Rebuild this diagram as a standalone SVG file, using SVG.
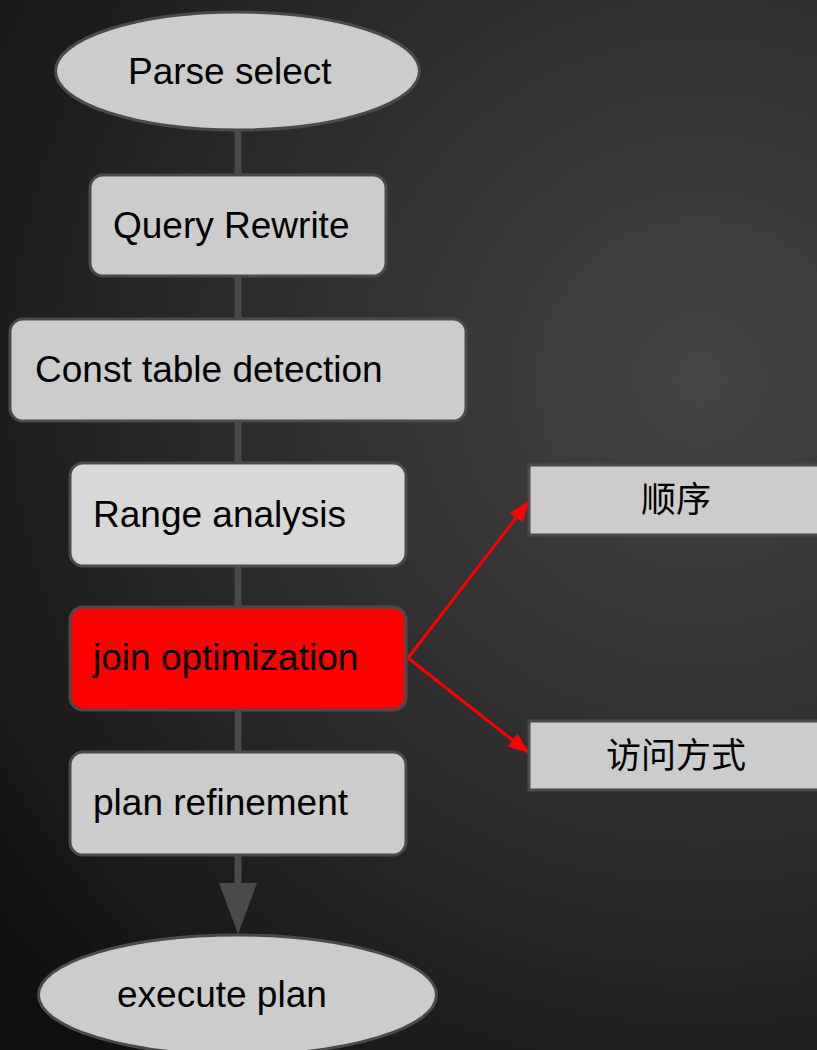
<svg xmlns="http://www.w3.org/2000/svg" width="817" height="1050" viewBox="0 0 817 1050">
  <defs>
    <radialGradient id="bg" cx="700" cy="380" r="900" gradientUnits="userSpaceOnUse">
      <stop offset="0" stop-color="#454545"/>
      <stop offset="0.55" stop-color="#2a2a2a"/>
      <stop offset="1" stop-color="#101010"/>
    </radialGradient>
    <marker id="redHead" viewBox="0 0 22 16" refX="21" refY="8" markerWidth="22" markerHeight="16" markerUnits="userSpaceOnUse" orient="auto">
      <path d="M0,0 L22,8 L0,16 z" fill="#ff0000"/>
    </marker>
    <style>
      .node { fill: #cccccc; stroke: #4a4a4a; stroke-width: 3; }
      .hot { fill: #ff0000; stroke: #4a4a4a; stroke-width: 3; }
      .side { fill: #cccccc; stroke: #4a4a4a; stroke-width: 3; }
      .label { font-family: "Liberation Sans", Arial, sans-serif; font-size: 37px; fill: #000000; }
      .cjk { font-family: "Noto Sans CJK SC", "Liberation Sans", sans-serif; font-size: 35px; fill: #000000; text-anchor: middle; }
      .flow { stroke: #4a4a4a; stroke-width: 7; fill: none; }
      .branch { stroke: #ff0000; stroke-width: 3; fill: none; }
    </style>
  </defs>

  <rect width="817" height="1050" fill="url(#bg)"/>

  <g id="connectors">
    <line class="flow" x1="238" y1="130" x2="238" y2="884"/>
    <path d="M219,883 L257,883 L238,934 z" fill="#4a4a4a"/>
    <line class="branch" x1="408" y1="658" x2="529" y2="501" marker-end="url(#redHead)"/>
    <line class="branch" x1="408" y1="658" x2="529" y2="753" marker-end="url(#redHead)"/>
  </g>

  <g id="parse-select">
    <ellipse class="node" cx="237.5" cy="71" rx="182" ry="59"/>
    <text class="label" x="128" y="84">Parse select</text>
  </g>

  <g id="query-rewrite">
    <rect class="node" x="90" y="175" width="296" height="101" rx="13"/>
    <text class="label" x="113" y="238">Query Rewrite</text>
  </g>

  <g id="const-table-detection">
    <rect class="node" x="10" y="319" width="456" height="102" rx="13"/>
    <text class="label" x="35" y="382">Const table detection</text>
  </g>

  <g id="range-analysis">
    <rect class="node" x="70" y="463" width="336" height="103" rx="13" style="fill:#d8d8d8"/>
    <text class="label" x="93" y="527">Range analysis</text>
  </g>

  <g id="join-optimization">
    <rect class="hot" x="70" y="607" width="336" height="103" rx="13"/>
    <text class="label" x="93" y="670">join optimization</text>
  </g>

  <g id="plan-refinement">
    <rect class="node" x="70" y="752" width="336" height="103" rx="13"/>
    <text class="label" x="93" y="815">plan refinement</text>
  </g>

  <g id="execute-plan">
    <ellipse class="node" cx="237.5" cy="995" rx="199" ry="60"/>
    <text class="label" x="117" y="1007">execute plan</text>
  </g>

  <g id="order">
    <rect class="side" x="529" y="465" width="300" height="70"/>
    <text class="cjk" x="676" y="512">顺序</text>
  </g>

  <g id="access-method">
    <rect class="side" x="529" y="721" width="300" height="69"/>
    <text class="cjk" x="676" y="768">访问方式</text>
  </g>
</svg>
